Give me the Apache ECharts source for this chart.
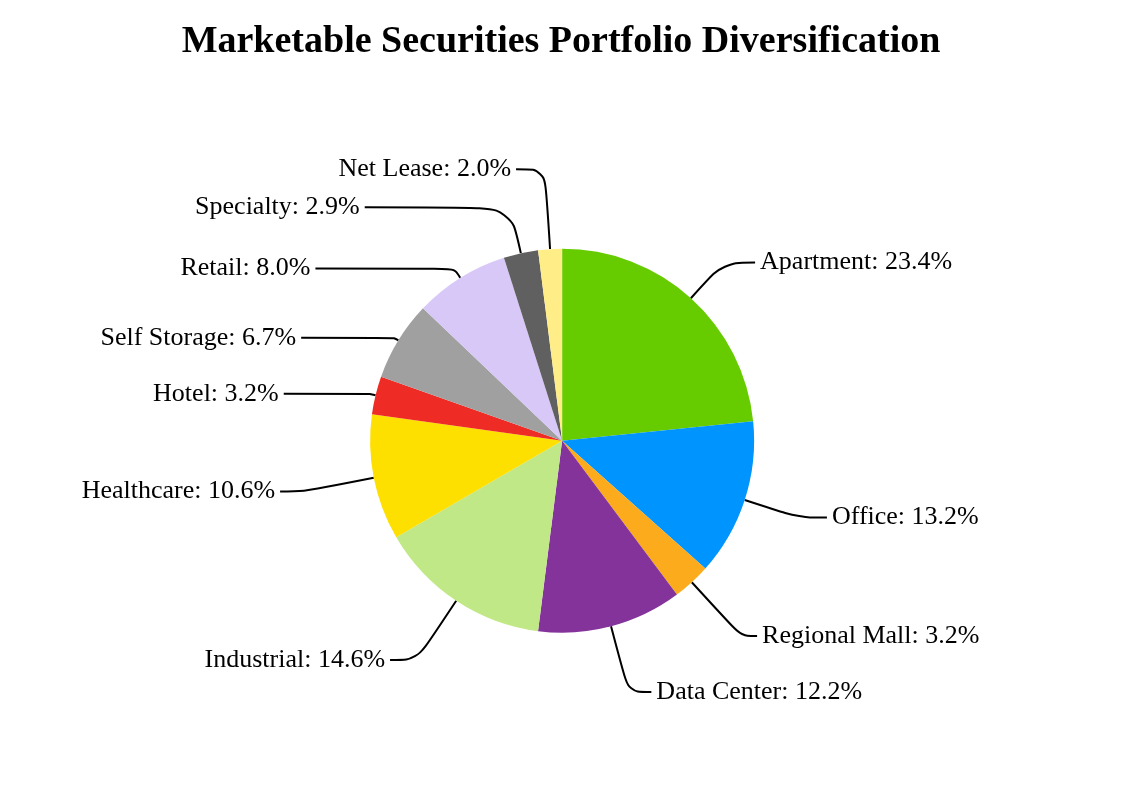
<!DOCTYPE html>
<html>
<head>
<meta charset="utf-8">
<script src="https://cdn.jsdelivr.net/npm/echarts@6/dist/echarts.min.js"></script>
<style>html,body{margin:0;padding:0;background:#fff;}#c{width:1122px;height:810px;}</style>
</head>
<body>
<div id="c"></div>
<script>
const categories = ['Apartment','Office','Regional Mall','Data Center','Industrial','Healthcare','Hotel','Self Storage','Retail','Specialty','Net Lease'];
const values = [23.4,13.2,3.2,12.2,14.6,10.6,3.2,6.7,8.0,2.9,2.0];
const colors = ['#66cc00','#0094ff','#fbab1c','#833399','#c0e886','#fde000','#ee2b24','#a0a0a0','#d8c8f8','#606060','#ffee88'];
// leader line lengths (radial part, horizontal part)
const lineLen1 = [48, 57, 73, 68, 71, 71, 6, 5, 11, 47, 80];
const lineLen2 = [32, 28, 16, 23, 27, 24, 86, 93, 139, 146, 29];

const chart = echarts.init(document.getElementById('c'));
chart.setOption({
  backgroundColor: '#fff',
  title: {
    text: 'Marketable Securities Portfolio Diversification',
    left: 'center', top: 18,
    textStyle: { fontFamily: 'Liberation Serif', fontWeight: 'bold', fontSize: 38, color: '#000' }
  },
  series: [{
    type: 'pie',
    center: ['50.1%', '54.4%'],
    radius: 192,
    startAngle: 90,
    clockwise: true,
    avoidLabelOverlap: false,
    itemStyle: { borderWidth: 0 },
    label: {
      formatter: p => p.name + ': ' + p.value.toFixed(1) + '%',
      fontFamily: 'Liberation Serif', fontSize: 26, color: '#000',
      distanceToLabelLine: 5
    },
    labelLine: { show: true, smooth: 0.35, lineStyle: { color: '#000', width: 2 } },
    emphasis: { disabled: true },
    data: categories.map((n, i) => ({
      name: n, value: values[i],
      itemStyle: { color: colors[i] },
      labelLine: { length: lineLen1[i], length2: lineLen2[i] }
    }))
  }]
});
</script>
</body>
</html>
